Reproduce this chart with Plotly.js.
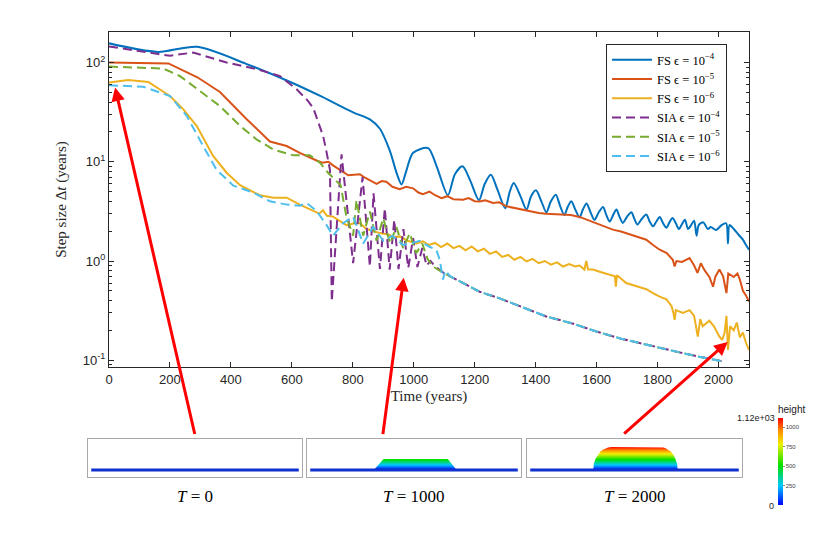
<!DOCTYPE html>
<html>
<head>
<meta charset="utf-8">
<script src="https://cdn.plot.ly/plotly-3.0.1.min.js"></script>
<style>html,body{margin:0;padding:0;background:#fff;}#chart{width:830px;height:535px;}</style>
</head>
<body>
<div id="chart"></div>
<script>
// ---------- main chart data (time in years, step size in years) ----------
const fs4X = [0,160,290,450,593,700,801,856,889,921,945,960,975,998,1047,1075,1112,1135,1160,1185,1214,1233,1253,1275,1300,1315,1328,1350,1370,1385,1401,1420,1435,1450,1466,1480,1494,1505,1517,1530,1544,1555,1567,1580,1593,1607,1621,1632,1643,1655,1665,1675,1686,1700,1714,1724,1734,1748,1763,1774,1785,1796,1807,1818,1829,1839,1849,1860,1870,1880,1890,1900,1910,1920,1928,1935,1950,1965,1975,1992,2010,2025,2031,2036,2050,2065,2080,2090,2100];
const fs4Y = [156,128,144,97,64,45,31.5,26.7,21.5,13,7.5,5.9,8,12.3,13.7,9,4.6,7.5,9.0,6.5,4.1,6,7.4,5.2,3.4,5,6.1,4.5,3.3,4.5,5.15,3.9,3.1,4.0,4.65,3.6,2.9,3.5,4.0,3.3,2.75,3.3,3.8,3.1,2.6,3.1,3.5,2.9,2.5,2.95,3.3,2.8,2.42,2.8,3.1,2.65,2.33,2.65,2.94,2.5,2.24,2.5,2.78,2.4,2.16,2.45,2.72,2.4,2.1,2.35,2.6,2.1,2.3,2.55,1.8,2.3,2.45,2.1,2.2,2.05,2.3,2.4,1.5,2.3,2.1,1.85,1.64,1.45,1.3];

const fs5X = [0,195,290,364,451,528,583,626,681,700,720,735,785,823,840,878,895,910,930,954,975,998,1015,1030,1052,1070,1091,1110,1130,1162,1180,1200,1216,1235,1260,1280,1304,1326,1350,1380,1410,1435,1460,1490,1515,1544,1570,1599,1625,1653,1680,1708,1735,1763,1785,1807,1830,1850,1856,1862,1880,1905,1920,1931,1942,1955,1970,1982,1990,2003,2015,2026,2032,2040,2050,2062,2070,2080,2090,2100];
const fs5Y = [100,98,71,50.5,27,16,14.4,12.3,10.3,9.8,10.0,9.2,7.3,7.5,6.9,6.0,6.4,6.3,5.6,5.3,5.6,5.4,4.9,4.7,5.0,4.6,4.3,4.5,4.2,4.15,4.3,4.0,3.97,4.1,3.85,3.9,3.56,3.45,3.3,3.15,3.05,3.0,2.98,2.94,2.9,2.78,2.6,2.42,2.25,2.07,1.98,1.85,1.75,1.64,1.45,1.3,1.2,1.03,0.88,1.0,0.98,1.07,0.9,0.76,0.95,0.8,0.69,0.55,0.7,0.82,0.7,0.475,0.75,0.72,0.69,0.75,0.65,0.5,0.45,0.39];

const fs6X = [0,63,129,200,244,288,342,386,430,495,540,583,626,670,690,702,715,735,779,806,823,845,870,889,915,935,954,980,1009,1030,1050,1070,1090,1110,1130,1150,1170,1190,1210,1230,1250,1270,1290,1310,1330,1350,1370,1390,1410,1430,1450,1470,1490,1510,1530,1544,1560,1566,1572,1588,1610,1632,1660,1663,1667,1697,1720,1741,1763,1785,1805,1829,1846,1852,1856,1860,1883,1905,1920,1932,1940,1948,1970,1985,2003,2012,2020,2026,2031,2038,2050,2060,2070,2080,2090,2100];
const fs6Y = [62.8,66.7,63.7,46,33.7,22.9,11.4,7.75,5.8,4.6,4.35,4.35,3.7,3.2,3.0,3.25,2.85,2.8,2.3,2.4,2.4,2.1,2.0,1.91,1.85,1.75,1.77,1.6,1.5,1.58,1.45,1.52,1.38,1.5,1.35,1.42,1.28,1.4,1.25,1.33,1.18,1.25,1.1,1.15,1.03,1.1,0.99,1.05,0.95,1.0,0.92,0.97,0.88,0.93,0.88,0.9,0.82,1.0,0.82,0.82,0.78,0.74,0.7,0.55,0.72,0.6,0.57,0.55,0.52,0.475,0.44,0.41,0.35,0.3,0.255,0.32,0.3,0.32,0.28,0.173,0.26,0.22,0.25,0.22,0.173,0.16,0.19,0.28,0.127,0.22,0.2,0.24,0.17,0.19,0.15,0.127];

// common late-time SIA curve (all three tolerances collapse onto it)
const siaTailX = [1140,1195,1216,1282,1350,1435,1520,1599,1680,1763,1820,1872,1940,1998,2010];
const siaTailY = [0.65,0.53,0.49,0.42,0.35,0.276,0.235,0.195,0.165,0.143,0.13,0.12,0.108,0.1,0.098];

const sia4X = [0,200,276,386,484,561,615,650,670,690,703,715,725,731,763,801,832,856,868,889,905,921,936,950,966,982,998,1012,1028,1042,1055,1070,1100];
const sia4Y = [145,117,126,100,86,73,54,42,35,24,18,12,8.3,0.39,11.9,0.95,7.0,0.88,4.8,0.83,3.4,0.82,2.6,0.83,2.1,0.85,1.7,0.87,1.35,0.9,1.0,0.88,0.75];

const sia5X = [0,178,233,298,364,430,484,539,605,659,692,718,741,760,779,801,812,834,856,878,900,922,943,965,987,1008,1028,1045,1063,1100];
const sia5Y = [91,87,73,52,36.4,23,16.8,13.3,11.6,11.6,9.8,7.8,6.6,5.8,2.8,1.8,4.1,1.8,3.15,1.6,2.7,1.5,2.2,1.35,1.9,1.2,1.5,1.05,0.88,0.75];

const sia6X = [0,112,200,255,309,353,408,473,528,583,626,648,681,714,735,768,801,834,867,900,930,965,990,1020,1050,1074,1085,1096,1103,1110,1120];
const sia6Y = [59,57,46,29,14.4,8.3,5.75,4.9,4.0,3.7,3.6,3.85,3.2,2.3,1.8,2.4,2.8,1.5,2.2,1.6,1.8,1.45,1.5,1.6,1.4,1.3,1.03,0.65,0.8,0.75,0.7];

const seriesNames = ['FS \u03f5 = 10<sup>\u22124</sup>','FS \u03f5 = 10<sup>\u22125</sup>','FS \u03f5 = 10<sup>\u22126</sup>',
                     'SIA \u03f5 = 10<sup>\u22124</sup>','SIA \u03f5 = 10<sup>\u22125</sup>','SIA \u03f5 = 10<sup>\u22126</sup>'];
const seriesColors = ['#0072BD','#D95319','#EDB120','#7E2F8E','#77AC30','#4DBEEE'];

const xTicks = [0,200,400,600,800,1000,1200,1400,1600,1800,2000];
const yTicks = [0.1, 1, 10, 100];
const yTickText = ['10<sup>-1</sup>','10<sup>0</sup>','10<sup>1</sup>','10<sup>2</sup>'];
const yMinorTicks = [0.09,0.2,0.3,0.4,0.5,0.6,0.7,0.8,0.9,2,3,4,5,6,7,8,9,20,30,40,50,60,70,80,90,200];

// arrows: target (time, step size) on the main chart
const arrowX = [20, 967, 2030];
const arrowY = [56, 0.68, 0.153];

// ---------- inset (ice height snapshots) data ----------
const bedX = [0.015, 0.985];
const bedY = [0, 0];
const ice1000X = [0.312, 0.358, 0.658, 0.699];
const ice1000Y = [0, 540, 540, 0];
const ice2000X = [0.308,0.311,0.319,0.330,0.342,0.355,0.366,0.377,0.393,0.618,0.634,0.645,0.656,0.668,0.680,0.690,0.698,0.701];
const ice2000Y = [0,300,550,750,900,1000,1060,1100,1120,1120,1100,1060,1000,900,750,550,300,0];
const heightMax = 1120;
const snapLabels = ['<i>T</i> = 0','<i>T</i> = 1000','<i>T</i> = 2000'];
const cbTicks = [250,500,750,1000];

const rainbow = [[0,'#0000ff'],[0.22,'#00c8ff'],[0.45,'#00e000'],[0.7,'#f0f000'],[0.85,'#ff9000'],[1,'#ff0000']];

const serif = 'Liberation Serif, DejaVu Serif, serif';
const sans = 'Liberation Sans, Arial, sans-serif';
const ink = '#262626';

const traces = [];
const xs = [fs4X, fs5X, fs6X, sia4X.concat(siaTailX), sia5X.concat(siaTailX), sia6X.concat(siaTailX)];
const ys = [fs4Y, fs5Y, fs6Y, sia4Y.concat(siaTailY), sia5Y.concat(siaTailY), sia6Y.concat(siaTailY)];
for (let i = 0; i < 6; i++) {
  traces.push({
    type: 'scatter', mode: 'lines', x: xs[i], y: ys[i], name: seriesNames[i],
    xaxis: 'x', yaxis: 'y',
    line: { color: seriesColors[i], width: 2, dash: i < 3 ? 'solid' : '9px,5px',
            shape: i === 0 ? 'spline' : 'linear', smoothing: 0.8 }
  });
}

// insets
const insetAx = [['x2','y2'],['x3','y3'],['x4','y4']];
traces.push({ type:'scatter', mode:'lines', x: ice1000X, y: ice1000Y, fill:'toself', xaxis:'x3', yaxis:'y3',
  line:{width:0, color:'rgba(0,0,0,0)'}, fillgradient:{type:'vertical', colorscale: rainbow, start:0, stop:heightMax},
  showlegend:false, hoverinfo:'skip' });
traces.push({ type:'scatter', mode:'lines', x: ice2000X, y: ice2000Y, fill:'toself', xaxis:'x4', yaxis:'y4',
  line:{width:0, color:'rgba(0,0,0,0)'}, fillgradient:{type:'vertical', colorscale: rainbow, start:0, stop:heightMax},
  showlegend:false, hoverinfo:'skip' });
insetAx.forEach(a => {
  traces.push({ type:'scatter', mode:'lines', x: bedX, y: bedY, xaxis:a[0], yaxis:a[1],
    line:{color:'#1030d0', width:3}, showlegend:false, hoverinfo:'skip' });
});
// colour bar holder (invisible markers)
traces.push({ type:'scatter', mode:'markers', x:[0.5,0.5], y:[-9000,-9000], xaxis:'x4', yaxis:'y4',
  marker:{ color:[0,heightMax], cmin:0, cmax:heightMax, colorscale: rainbow, opacity:0, showscale:true,
    colorbar:{ x: 778/830, xanchor:'left', y: 1-402/535, yanchor:'top', len: 103, lenmode:'pixels',
      thickness:5, thicknessmode:'pixels', outlinewidth:0, xpad:0, ypad:0,
      tickvals: cbTicks, ticktext: cbTicks.map(String), ticks:'outside', ticklen:2, tickcolor:'#888',
      tickfont:{size:6, family:sans, color:'#444'},
      title:{text:'height', side:'top', font:{size:10, family:sans, color:'#222'}} } },
  showlegend:false, hoverinfo:'skip' });

const px2x = p => p / 830;
const py2y = p => 1 - p / 535;

const insetDomX = [[88,302],[307,521],[527,742]];
const layout = {
  width: 830, height: 535,
  margin: {l:0, r:0, t:0, b:0},
  paper_bgcolor: '#ffffff', plot_bgcolor: '#ffffff',
  showlegend: true,
  legend: { x: px2x(606), y: py2y(44), xanchor:'left', yanchor:'top', bgcolor:'#ffffff',
            bordercolor: ink, borderwidth: 1, font:{family: serif, size: 12.5, color:'#000'},
            tracegroupgap: 0, itemwidth: 40 },
  xaxis: { domain:[px2x(109), px2x(749)], range:[0,2100], tickvals: xTicks, ticks:'inside', ticklen:5,
           showline:true, mirror:'ticks', linecolor: ink, linewidth:1, tickcolor: ink, showgrid:false, zeroline:false,
           tickfont:{family: sans, size:13, color: ink}, automargin:false,
           title:{text:'Time (years)', font:{family: serif, size:15, color: ink}, standoff: 4} },
  yaxis: { domain:[py2y(367), py2y(32)], type:'log', range:[Math.log10(0.0855), Math.log10(203)],
           tickmode:'array', tickvals: yTicks, ticktext: yTickText, ticks:'inside', ticklen:5, showline:true, mirror:'ticks', linecolor: ink,
           linewidth:1, tickcolor: ink, showgrid:false, zeroline:false, automargin:false,
           minor:{tickmode:'array', tickvals: yMinorTicks, ticks:'inside', ticklen:3, tickcolor: ink, showgrid:false},
           tickfont:{family: sans, size:13, color: ink},
           title:{text:'Step size \u0394<i>t</i> (years)', font:{family: serif, size:15, color: ink}, standoff: 12} },
  annotations: [],
};
insetDomX.forEach((d, i) => {
  const n = i + 2;
  layout['xaxis' + n] = { domain:[px2x(d[0]), px2x(d[1])], anchor:'y' + n, range:[0,1], showline:true, mirror:true,
    linecolor:'#a8a8a8', linewidth:1.2, showticklabels:false, ticks:'', showgrid:false, zeroline:false, fixedrange:true };
  layout['yaxis' + n] = { domain:[py2y(477), py2y(439)], anchor:'x' + n, range:[-341,1510], showline:true, mirror:true,
    linecolor:'#a8a8a8', linewidth:1.2, showticklabels:false, ticks:'', showgrid:false, zeroline:false, fixedrange:true };
  layout.annotations.push({ xref:'paper', yref:'paper', x: px2x((d[0]+d[1])/2), y: py2y(496), text: snapLabels[i],
    showarrow:false, font:{family: serif, size:17, color:'#000'}, xanchor:'center', yanchor:'middle' });
});
// arrow tails in pixels relative to target
const arrowTail = [[80,348],[-21,158],[-105,93]];
arrowX.forEach((x, i) => {
  layout.annotations.push({ xref:'x', yref:'y', x: x, y: Math.log10(arrowY[i]), text:'', showarrow:true,
    ax: arrowTail[i][0], ay: arrowTail[i][1], arrowcolor:'#ff0000', arrowwidth:3, arrowhead:2, arrowsize:0.9, standoff:0 });
});
layout.annotations.push({ xref:'paper', yref:'paper', x: px2x(777), y: py2y(418), text:'1.12e+03', showarrow:false,
  xanchor:'right', yanchor:'middle', font:{family: sans, size:9, color:'#222'} });
layout.annotations.push({ xref:'paper', yref:'paper', x: px2x(776), y: py2y(506), text:'0', showarrow:false,
  xanchor:'right', yanchor:'middle', font:{family: sans, size:9, color:'#222'} });

Plotly.newPlot('chart', traces, layout, {staticPlot:true, displayModeBar:false});
</script>
</body>
</html>
